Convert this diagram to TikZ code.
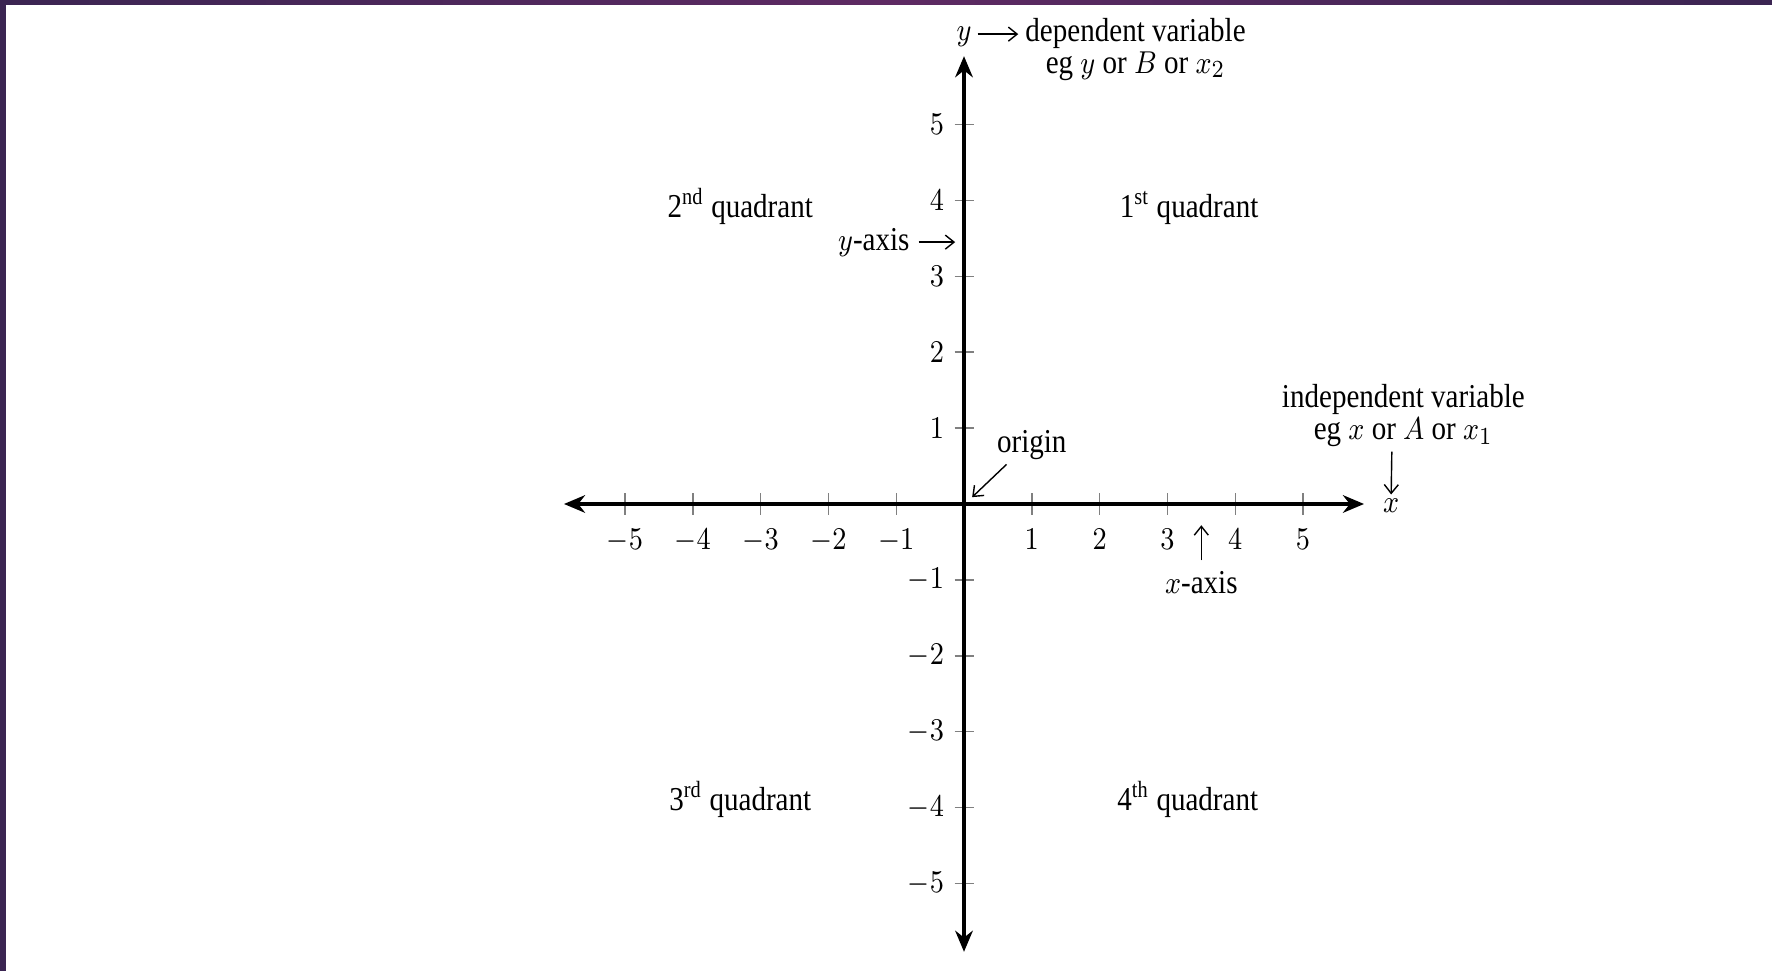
\documentclass[tikz,border=0pt]{standalone}
\usepackage{fontspec}
\setmainfont{Liberation Serif}
\usetikzlibrary{arrows.meta,positioning}
\definecolor{framedark}{HTML}{3B2552}
\definecolor{framemid}{HTML}{5E2A63}
\newcommand\lblfont{\fontsize{9.5}{9.1}\selectfont}
\tikzset{
  axisline/.style={line width=1pt,{Stealth[length=6pt,width=5pt]}-{Stealth[length=6pt,width=5pt]}},
  tickline/.style={gray,line width=0.4pt},
  lbl/.style={font=\lblfont,xscale=.87,inner sep=1pt},
  pointer/.style={line width=0.4pt,-{Straight Barb[length=2.5pt,width=4pt]}},
}
\begin{document}
\begin{tikzpicture}[x=0.678cm,y=0.759cm]
  \def\xticks{-5,-4,-3,-2,-1,1,2,3,4,5} % no tick at the origin
  \def\yticks{-5,-4,-3,-2,-1,1,2,3,4,5}

  % page with its purple frame
  \useasboundingbox (-14.218,-6.153) rectangle (11.917,6.640);
  \fill[white] (-14.218,-6.153) rectangle (11.917,6.640);
  \shade[left color=framedark,right color=framedark,middle color=framemid] (-14.218,6.574) rectangle (11.917,6.640);
  \fill[framedark] (-14.218,-6.153) rectangle (-14.13,6.640);

  % ticks and their numbers
  \foreach \t in \xticks {
    \draw[tickline] (\t,-0.14) -- (\t,0.14);
    \node[lbl,anchor=north] at (\t,-0.27) {$\t$};
  }
  \foreach \t in \yticks {
    \draw[tickline] (-0.14,\t) -- (0.14,\t);
    \node[lbl,anchor=east] at (-0.24,\t) {$\t$};
  }

  % axes
  \coordinate (O) at (0,0);
  \draw[axisline] (-5.9,0) -- (5.9,0);
  \draw[axisline] (0,-5.9) -- (0,5.9);

  % quadrants
  \node[lbl,anchor=base] (q1) at (3.32,3.77) {1\textsuperscript{st} quadrant};
  \node[lbl,anchor=base] (q2) at (-3.30,3.77) {2\textsuperscript{nd} quadrant};
  \node[lbl,anchor=base] (q3) at (-3.30,-4.04) {3\textsuperscript{rd} quadrant};
  \node[lbl,anchor=base] (q4) at (3.30,-4.04) {4\textsuperscript{th} quadrant};

  % y axis names
  \node[lbl] (yaxislab) at (-1.33,3.45) {$y$-axis};
  \coordinate (yaxistip) at (-0.13,3.45);
  \draw[pointer] (yaxislab.east) ++(0.08,0) -- (yaxistip);
  \node[lbl,anchor=base] (yname) at (0,6.11) {$y$};
  \node[lbl,anchor=north,align=center] (depvar) at (2.53,6.46) {dependent variable\\eg $y$ or $B$ or $x_2$};
  \coordinate (ynametip) at (0.8,6.19);
  \draw[pointer] (0.2,6.19) -- (ynametip);

  % origin
  \node[lbl] (originlab) at (1.0,0.77) {origin};
  \coordinate (origintip) at (0.12,0.09);
  \draw[pointer] (originlab.213) -- (origintip);

  % x axis names
  \node[lbl] (xaxislab) at (3.50,-1.04) {$x$-axis};
  \coordinate (xaxistip) at (3.50,-0.28);
  \draw[pointer] ([yshift=2pt]xaxislab.north) -- (xaxistip);
  \node[lbl,align=center] (indep) at (6.48,1.16) {independent variable\\eg $x$ or $A$ or $x_1$};
  \node[lbl] (xname) at (6.30,-0.02) {$x$};
  \coordinate (xnametop) at (6.31,0.69);
  \draw[pointer] (xnametop) -- (xname.north);
\end{tikzpicture}
\end{document}
